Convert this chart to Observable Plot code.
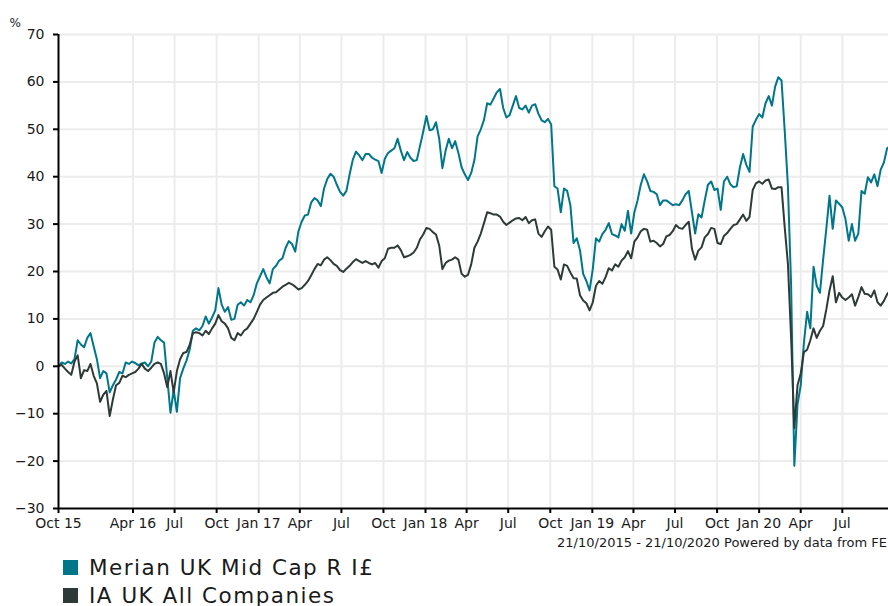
<!DOCTYPE html>
<html>
<head>
<meta charset="utf-8">
<script src="https://cdn.jsdelivr.net/npm/d3@7"></script>
<script src="https://cdn.jsdelivr.net/npm/@observablehq/plot@0.6"></script>
<style>
  html, body { margin: 0; padding: 0; overflow: hidden; background: #fff; }
  body { width: 894px; height: 606px; position: relative; font-family: "DejaVu Sans", Verdana, sans-serif; color: #1a1a1a; }
  #chart { position: absolute; left: 0; top: 0; width: 894px; }
  #caption { position: absolute; left: 0; width: 887px; top: 534.5px; text-align: right; font-size: 13px; line-height: 16px; white-space: nowrap; }
  #legend { position: absolute; left: 63px; top: 553.8px; }
  .item { display: flex; align-items: center; height: 27.5px; font-size: 21.5px; letter-spacing: 1.5px; white-space: nowrap; }
  .sw { width: 15px; height: 15px; margin-right: 11px; flex: none; }
</style>
</head>
<body>
<div id="chart"></div>
<div id="caption"></div>
<div id="legend"></div>
<script>
// ---- data ----
const startDate = "2015-10-21";
const endDate = "2020-10-21";
const stepDays = 7; // weekly observations from startDate
const captionText = "21/10/2015 - 21/10/2020 Powered by data from FE";
const seriesNames = ["Merian UK Mid Cap R I£", "IA UK All Companies"];
const seriesColors = ["#00768a", "#2e3a37"];

const fund = [0,0.8,0.5,1.0,0.6,1.5,5.5,4.6,4.0,6.0,
7.0,4.2,1.5,-2.5,-1.0,-1.5,-5.5,-4.0,-2.8,-1.2,
-1.5,0.8,0.5,1.0,0.7,0.2,0.6,0.8,0.0,1.0,
5.0,6.2,5.5,5.0,-2.5,-9.8,-5.0,-9.6,-2.5,-0.5,
1.2,3.5,7.5,8.0,7.6,8.5,10.5,9.0,10.3,11.8,
16.5,13.0,11.5,12.5,9.8,10.0,13.0,13.5,12.8,14.0,
13.5,15.0,17.5,19.0,20.5,18.8,17.5,20.5,21.2,22.3,
22.8,25.0,26.4,25.8,24.2,28.5,30.5,31.8,32.0,34.6,
35.5,35.0,33.8,37.5,39.5,40.6,40.0,38.3,36.8,36.0,
37.0,40.5,43.6,45.3,44.5,43.5,44.8,44.8,44.0,43.6,
43.3,40.8,43.8,45.0,45.5,46.0,48.0,45.5,43.5,45.2,
44.0,43.3,43.5,46.5,49.5,52.8,49.8,50.0,51.5,48.0,
41.8,45.5,48.0,46.0,47.5,45.0,42.0,40.5,39.3,40.8,
43.5,48.5,50.0,52.0,55.5,55.2,56.5,57.8,58.5,54.5,
52.5,53.0,55.0,57.0,54.5,54.2,55.0,53.5,55.0,55.3,
53.3,51.9,51.5,52.2,51.0,38.0,37.5,32.5,37.5,37.0,
34.0,26.0,27.0,24.5,19.5,18.0,16.0,20.5,27.0,26.3,
27.9,28.8,30.2,27.9,27.6,27.2,30.0,28.6,32.8,28.0,
32.5,35.0,38.3,40.5,39.0,37.0,36.8,36.3,34.0,35.0,
35.0,34.5,34.0,34.2,34.0,35.0,36.3,37.0,32.5,28.0,
32.1,31.4,35.0,38.3,39.0,37.2,37.5,33.0,39.0,40.0,
38.4,37.8,38.0,42.0,44.8,42.5,41.0,50.6,52.0,53.2,
52.5,55.5,57.0,55.0,59.0,61.0,60.3,49.7,38.0,17.0,
-21.0,-8.0,-4.0,5.0,11.5,8.0,21.0,17.0,15.5,22.5,
29.0,36.0,29.0,35.0,34.3,33.5,31.0,26.5,30.0,26.5,
28.0,37.0,36.4,39.9,38.8,40.5,38.0,41.5,43.0,46.0,
46.5];

const sector = [0,0.3,-0.5,-1.2,-1.8,1.0,2.3,-2.5,-0.8,-1.0,
0.5,-2.0,-3.6,-7.5,-6.0,-5.2,-10.5,-7.0,-4.0,-3.5,
-2.0,-2.3,-1.8,-1.5,-1.2,-0.5,0.5,-0.5,-1.0,-0.3,
0.5,0.8,0.5,-1.5,-4.4,-1.0,-5.5,-1.0,1.5,2.8,
3.0,4.5,7.0,7.2,7.0,6.5,7.5,6.8,8.0,9.0,
10.8,9.5,9.0,8.0,6.0,5.5,7.0,6.5,7.5,8.0,
9.0,10.0,11.5,13.0,14.0,14.5,15.0,15.5,15.6,16.2,
16.8,17.2,17.6,17.3,16.8,16.2,16.5,17.2,18.0,19.2,
20.5,21.6,21.3,22.5,23.0,22.4,21.6,21.2,20.3,19.9,
20.6,21.2,22.0,22.6,22.2,21.8,22.2,21.8,21.5,21.8,
20.8,22.2,22.8,24.8,25.0,25.0,25.5,24.5,23.0,23.2,
23.5,24.0,25.0,26.8,27.8,29.2,29.0,28.3,27.8,25.5,
20.5,21.8,22.3,22.5,23.0,22.5,19.5,18.9,19.3,21.5,
25.0,26.3,28.0,30.2,32.5,32.3,32.0,32.0,31.6,30.5,
29.8,30.3,30.8,31.2,31.3,30.8,31.5,30.2,30.8,31.0,
28.0,27.3,28.5,29.5,28.8,21.0,20.4,18.3,21.5,21.2,
19.8,18.6,18.5,15.0,13.9,13.3,11.8,13.5,17.0,18.0,
17.4,18.8,20.7,20.2,21.5,21.0,22.3,23.0,24.3,22.8,
26.3,27.2,28.5,29.0,28.8,26.3,26.5,26.0,25.3,25.8,
27.4,27.7,28.5,29.8,29.2,29.0,29.8,30.5,24.8,22.5,
24.4,25.1,27.2,27.9,29.2,29.0,26.0,25.8,27.5,28.1,
29.0,29.8,30.0,31.0,32.0,30.7,31.5,37.2,38.6,39.0,
38.5,39.2,39.4,37.5,37.4,37.8,37.8,29.3,21.6,6.0,
-13.0,-4.0,-1.5,3.0,3.5,5.5,8.0,6.0,7.5,8.5,
12.0,16.0,19.0,13.5,15.5,14.5,14.0,14.5,15.2,12.8,
14.6,16.7,15.3,15.2,14.6,16.0,13.5,12.8,13.8,15.2,
16.0];

const xTickDates = ["2015-10-21","2016-04-01","2016-07-01","2016-10-01","2017-01-01","2017-04-01","2017-07-01","2017-10-01","2018-01-01","2018-04-01","2018-07-01","2018-10-01","2019-01-01","2019-04-01","2019-07-01","2019-10-01","2020-01-01","2020-04-01","2020-07-01"];
const xTickLabels = ["Oct 15","Apr 16","Jul","Oct","Jan 17","Apr","Jul","Oct","Jan 18","Apr","Jul","Oct","Jan 19","Apr","Jul","Oct","Jan 20","Apr","Jul"];
const yTicks = [70, 60, 50, 40, 30, 20, 10, 0, -10, -20, -30];
const yUnit = "%";

// ---- build table ----
const t0 = new Date(startDate);
const t1 = new Date(endDate);
const dateAt = i => d3.utcDay.offset(t0, i * stepDays);
const rows = [
  ...fund.map((v, i) => ({date: dateAt(i), value: v, series: seriesNames[0]})),
  ...sector.map((v, i) => ({date: dateAt(i), value: v, series: seriesNames[1]}))
];
const tickDates = xTickDates.map(s => new Date(s));
const labelByTime = new Map(tickDates.map((d, i) => [+d, xTickLabels[i]]));

const chart = Plot.plot({
  width: 894,
  height: 536,
  marginLeft: 58,
  marginRight: 1,
  marginTop: 34,
  marginBottom: 28,
  style: {fontFamily: "'DejaVu Sans', Verdana, sans-serif", fontSize: "14px", color: "#1a1a1a", background: "#fff", maxWidth: "none", overflow: "visible"},
  x: {type: "utc", domain: [t0, t1]},
  y: {domain: [yTicks[yTicks.length - 1], yTicks[0]]},
  color: {domain: seriesNames, range: seriesColors},
  marks: [
    Plot.gridX(tickDates.slice(1), {stroke: "#ececec", strokeOpacity: 1, strokeWidth: 2}),
    Plot.gridY(yTicks.slice(0, -1), {stroke: "#ececec", strokeOpacity: 1, strokeWidth: 2}),
    Plot.line(rows, {x: "date", y: "value", z: "series", stroke: "series", strokeWidth: 2, strokeLinejoin: "round"}),
    Plot.ruleY([yTicks[yTicks.length - 1]], {stroke: "#000", strokeWidth: 2}),
    Plot.ruleX([t0], {stroke: "#000", strokeWidth: 2}),
    Plot.axisX(tickDates, {tickFormat: d => labelByTime.get(+d), tickSize: 5, tickPadding: 5, strokeWidth: 2, stroke: "#000", label: null, fontSize: 14}),
    Plot.axisY(yTicks, {tickSize: 5, tickPadding: 9, strokeWidth: 2, stroke: "#000", label: null, fontSize: 14}),
    Plot.text([yUnit], {frameAnchor: "top-left", dx: -49, dy: -16, fontSize: 12, fill: "#1a1a1a"})
  ]
});
document.getElementById("chart").appendChild(chart);

document.getElementById("caption").textContent = captionText;

const legend = document.getElementById("legend");
seriesNames.forEach((name, i) => {
  const item = document.createElement("div");
  item.className = "item";
  const sw = document.createElement("span");
  sw.className = "sw";
  sw.style.background = seriesColors[i];
  const label = document.createElement("span");
  label.textContent = name;
  item.appendChild(sw);
  item.appendChild(label);
  legend.appendChild(item);
});
</script>
</body>
</html>
